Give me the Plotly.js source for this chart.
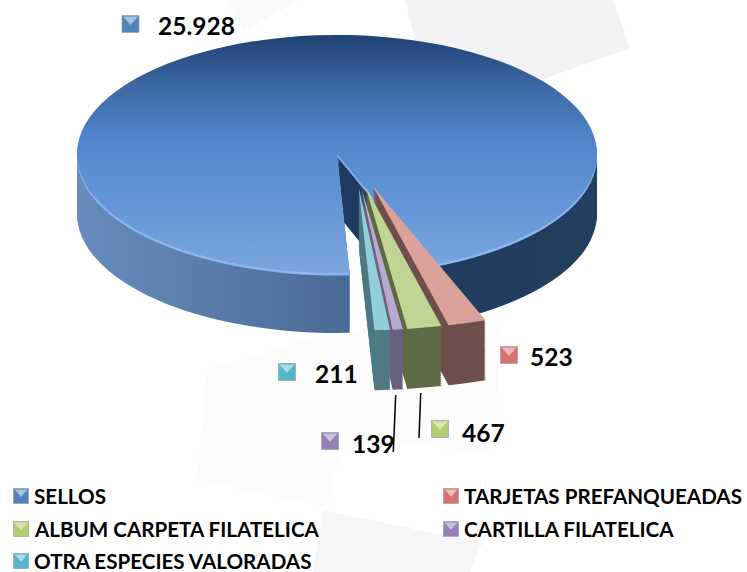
<!DOCTYPE html>
<html><head><meta charset="utf-8">
<script src="https://cdn.plot.ly/plotly-3.0.1.min.js"></script>
<style>html,body{margin:0;padding:0;background:#fff}#c{width:747px;height:572px}</style>
</head><body><div id="c"></div>
<script>
// ---- data ----
const categories = ['SELLOS','TARJETAS PREFANQUEADAS','ALBUM CARPETA FILATELICA','CARTILLA FILATELICA','OTRA ESPECIES VALORADAS'];
const values = [25928,523,467,139,211];
const valueLabels = ['25.928','523','467','139','211'];
// ---- styles ----
const topColors  = ['#4f86cc','#dba19b','#c0d494','#b9a9cf','#93cfdb'];
const wallColors = ['#3a5a85','#6d4f4c','#5f6a47','#6a6080','#4f7a84'];
const keyColors  = ['#4f81bd','#d9706c','#b5cc6f','#9580b8','#55b5cc'];
// ---- positions in page pixels ----
const valueLabelPos = [[156,25],[528,356],[460,432],[350,443],[313,373]];
const valueKeyPos   = [[130.5,24],[509,355],[440,429],[330,441],[287,372]];
const legendPos     = [[32,496],[462,496],[32,529],[462,529],[32,561]];
const legendKeyPos  = [[21,496],[451,496],[21,529],[451,529],[21,561]];
const leaders = [[395.7,395,393.3,452],[420.7,393,419,438]];
const W=747,H=572;
const px=x=>x/W, py=y=>1-y/H;
const rotation=177.2, pullSmall=0.2, R=100, cx0=W/2, cy0=H/2;
const layers=30, step=2;
const clear='rgba(0,0,0,0)';
const dom=h=>({x:[(cx0-h)/W,(cx0+h)/W],y:[1-(cy0+h)/H,1-(cy0-h)/H]});
function slice(colors,pull,h){
  return {type:'pie',values,labels:categories,sort:false,direction:'clockwise',rotation,textinfo:'none',hoverinfo:'skip',
    showlegend:false,pull,domain:dom(h),marker:{colors,line:{width:0}}};
}
const traces=[], xforms=[];
const BX=337, BY=154, SX=260/R, SY=119/R;
const sT=k=>`translate(${BX},${BY+k}) scale(${SX},${SY}) translate(${-cx0},${-cy0})`;
const SSX=322/R, SSY=143/R;
const mT=k=>`translate(354,159) translate(0,${k}) scale(${SSX},${SSY}) translate(${-cx0},${-cy0})`;
const sMask=c=>[c,clear,clear,clear,clear];
for(let k=layers;k>=1;k--){ traces.push(slice(sMask(wallColors[0]),0,R)); xforms.push(sT(k*step)); }
traces.push(slice(sMask('#8ab8f0'),0,R)); xforms.push(sT(2.5));
traces.push(slice(sMask(topColors[0]),0,R)); xforms.push(sT(0));
const mMask=a=>[clear,a[1],a[2],a[3],a[4]];
const smallPull=[0,pullSmall,pullSmall,pullSmall,pullSmall];
for(let k=layers;k>=1;k--){ traces.push(slice(mMask(wallColors),smallPull,R*(1+pullSmall))); xforms.push(mT(k*step)); }
traces.push(slice(mMask(topColors),smallPull,R*(1+pullSmall))); xforms.push(mT(0));

const annotations=[], shapes=[];
const poly=(pts,fill)=>({type:'path',xref:'paper',yref:'paper',layer:'below',fillcolor:fill,line:{width:0},
  path:'M'+pts.map(p=>px(p[0])+','+py(p[1])).join('L')+'Z'});
shapes.push(poly([[405,0],[613,0],[630,48],[500,95],[420,60]],'#f3f3f5'));
shapes.push(poly([[227,0],[243,32],[300,0]],'#fafafa'));
shapes.push(poly([[207,370],[340,330],[500,327],[495,455],[410,443],[340,450],[327,507],[197,480]],'#fcfcfd'));
shapes.push(poly([[323,510],[482,543],[470,572],[313,572]],'#f5f5f7'));
function key(p,c,s){
  const [x,y]=p;
  shapes.push({type:'rect',xref:'paper',yref:'paper',layer:'above',x0:px(x-s),x1:px(x+s),y0:py(y+s),y1:py(y-s),fillcolor:c,line:{color:'#9a9fa8',width:0.7}});
  shapes.push({type:'path',xref:'paper',yref:'paper',layer:'above',fillcolor:'rgba(255,255,255,0.5)',line:{width:0},
    path:`M${px(x-s+1)},${py(y-s+1)}L${px(x+s-1)},${py(y-s+1)}L${px(x)},${py(y+1)}Z`});
}
const text=(t,p,size)=>annotations.push({text:'<b>'+t+'</b>',xref:'paper',yref:'paper',x:px(p[0]),y:py(p[1]),xanchor:'left',yanchor:'middle',
  showarrow:false,font:{family:'Lato, Liberation Sans, sans-serif',size,color:'#000'}});
categories.forEach((c,i)=>{
  text(valueLabels[i],valueLabelPos[i],24.5); key(valueKeyPos[i],keyColors[i],8.5);
  text(c,legendPos[i],20.6); key(legendKeyPos[i],keyColors[i],7.5);
});
leaders.forEach(l=>shapes.push({type:'line',xref:'paper',yref:'paper',layer:'above',x0:px(l[0]),y0:py(l[1]),x1:px(l[2]),y1:py(l[3]),line:{color:'#000',width:1.5}}));

Plotly.newPlot('c',traces,{width:W,height:H,margin:{l:0,r:0,t:0,b:0},paper_bgcolor:'#fff',plot_bgcolor:'#fff',showlegend:false,annotations,shapes},{staticPlot:true,displayModeBar:false}).then(gd=>{
  const svg=gd.querySelector('svg.main-svg');
  const NS='http://www.w3.org/2000/svg';
  const defs=document.createElementNS(NS,'defs');
  // gradients are given in page pixels; gradientTransform undoes the big pie's transform
  const inv=`translate(${cx0},${cy0}) scale(${1/SX},${1/SY}) translate(${-BX},${-BY})`;
  const grad=(id,x1,y1,x2,y2,stops)=>{
    const g=document.createElementNS(NS,'linearGradient');
    g.setAttribute('id',id);g.setAttribute('gradientUnits','userSpaceOnUse');
    g.setAttribute('x1',x1);g.setAttribute('y1',y1);g.setAttribute('x2',x2);g.setAttribute('y2',y2);
    g.setAttribute('gradientTransform',inv);
    stops.forEach(s=>{const e=document.createElementNS(NS,'stop');e.setAttribute('offset',s[0]);e.setAttribute('stop-color',s[1]);g.appendChild(e);});
    defs.appendChild(g);
  };
  grad('faceG',336,35,336,273,[[0,'#1f4272'],[0.24,'#3f6cab'],[0.45,'#5185cc'],[0.7,'#6495d8'],[1,'#7ca5dc']]);
  // the boundary runs from the apex towards the notch's left lower corner
  const nx=203/204, ny=-22/204, ax=345, ay=220, L=290;
  grad('wallG',ax-nx*L,ay-ny*L,ax+nx*L,ay+ny*L,[[0,'#6b8fc2'],[0.5,'#496a94'],[0.503,'#1f3a5f'],[1,'#22405f']]);
  svg.insertBefore(defs,svg.firstChild);
  const groups=svg.querySelectorAll('.pielayer g.trace');
  groups.forEach((g,i)=>{
    g.setAttribute('transform',xforms[i]);
    const isBig=i<layers+2;
    if(isBig){
      const p=g.querySelector('g.slice path.surface');
      if(i===layers+1) p.style.fill='url(#faceG)';
      else if(i<layers) p.style.fill='url(#wallG)';
    }
    g.querySelectorAll('path.surface').forEach(p=>{p.style.strokeWidth='0';});
  });
});
</script></body></html>
